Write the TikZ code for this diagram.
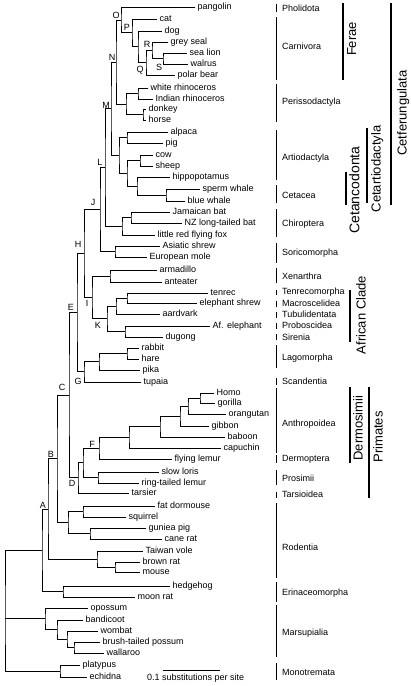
\documentclass[tikz,border=0pt]{standalone}
\usepackage{fontspec}
\setmainfont{Liberation Sans}
\usetikzlibrary{calc}
\newcommand\mkNode[4]{\path let \p1=(#3), \p2=(#4) in ({#2pt},{0.5*\y1+0.5*\y2}) coordinate (#1);}
\newcommand\mkEdge[3]{\draw[br] (#2) -| (#1) |- (#3);}
\begin{document}
\begin{tikzpicture}[x=1pt,y=-1pt,
  br/.style={line width=0.85pt},
  leaf/.style={anchor=west, inner xsep=2.5pt, inner ysep=0pt, text height=6.5pt, text depth=2pt, font=\fontsize{9}{10}\selectfont},
  ordlab/.style={anchor=west, inner sep=0pt, text height=6.5pt, text depth=2pt, font=\fontsize{9}{10}\selectfont},
  nlab/.style={inner sep=0pt, font=\fontsize{9}{10}\selectfont},
  clade/.style={rotate=90, anchor=north, inner sep=0pt, font=\fontsize{13}{15}\selectfont},
  obar/.style={line width=0.8pt},
  cbar/.style={line width=1.6pt}]
\useasboundingbox (0,0) rectangle (410,686);
% leaves
\node[leaf] (pangolin) at (195,7) {pangolin};
\node[leaf] (cat) at (157,19) {cat};
\node[leaf] (dog) at (162,31) {dog};
\node[leaf] (greyseal) at (168,42) {grey seal};
\node[leaf] (sealion) at (187,53) {sea lion};
\node[leaf] (walrus) at (188,64) {walrus};
\node[leaf] (polarbear) at (175,75) {polar bear};
\node[leaf] (wrhino) at (148,88) {white rhinoceros};
\node[leaf] (irhino) at (153,99) {Indian rhinoceros};
\node[leaf] (donkey) at (146,109.5) {donkey};
\node[leaf] (horse) at (146,120) {horse};
\node[leaf] (alpaca) at (168,132) {alpaca};
\node[leaf] (pig) at (163,143) {pig};
\node[leaf] (cow) at (153,155) {cow};
\node[leaf] (sheep) at (153,166) {sheep};
\node[leaf] (hippo) at (170,177) {hippopotamus};
\node[leaf] (sperm) at (200,189) {sperm whale};
\node[leaf] (blue) at (185,201) {blue whale};
\node[leaf] (jbat) at (170,212.5) {Jamaican bat};
\node[leaf] (nzbat) at (182,223) {NZ long-tailed bat};
\node[leaf] (fox) at (155,235) {little red flying fox};
\node[leaf] (shrew) at (160,246) {Asiatic shrew};
\node[leaf] (mole) at (147,257) {European mole};
\node[leaf] (armadillo) at (157,270) {armadillo};
\node[leaf] (anteater) at (162,282) {anteater};
\node[leaf] (tenrec) at (208,293) {tenrec};
\node[leaf] (eshrew) at (197,303) {elephant shrew};
\node[leaf] (aardvark) at (160,314) {aardvark};
\node[leaf] (afele) at (210,326) {Af. elephant};
\node[leaf] (dugong) at (163,337) {dugong};
\node[leaf] (rabbit) at (139,348) {rabbit};
\node[leaf] (hare) at (139,359) {hare};
\node[leaf] (pika) at (140,370) {pika};
\node[leaf] (tupaia) at (141,382) {tupaia};
\node[leaf] (homo) at (214,393) {Homo};
\node[leaf] (gorilla) at (215,403) {gorilla};
\node[leaf] (orangutan) at (226,414) {orangutan};
\node[leaf] (gibbon) at (209,426) {gibbon};
\node[leaf] (baboon) at (225,437) {baboon};
\node[leaf] (capuchin) at (221,448) {capuchin};
\node[leaf] (flemur) at (172,459) {flying lemur};
\node[leaf] (loris) at (159,472) {slow loris};
\node[leaf] (rtlemur) at (139,483) {ring-tailed lemur};
\node[leaf] (tarsier) at (129,493) {tarsier};
\node[leaf] (dormouse) at (155,506) {fat dormouse};
\node[leaf] (squirrel) at (126,517) {squirrel};
\node[leaf] (guinea) at (146,528) {guniea pig};
\node[leaf] (canerat) at (162,539) {cane rat};
\node[leaf] (vole) at (143,551) {Taiwan vole};
\node[leaf] (brownrat) at (140,562) {brown rat};
\node[leaf] (mouse) at (140,572) {mouse};
\node[leaf] (hedgehog) at (170,586) {hedgehog};
\node[leaf] (moonrat) at (135,597) {moon rat};
\node[leaf] (opossum) at (88,608) {opossum};
\node[leaf] (bandicoot) at (83,620) {bandicoot};
\node[leaf] (wombat) at (98,631) {wombat};
\node[leaf] (possum) at (100,642) {brush-tailed possum};
\node[leaf] (wallaroo) at (104,653) {wallaroo};
\node[leaf] (platypus) at (80,665) {platypus};
\node[leaf] (echidna) at (87,677) {echidna};
% internal nodes
\mkNode{S}{163}{sealion}{walrus}
\mkNode{R}{152}{greyseal}{S}
\mkNode{Q}{146}{R}{polarbear}
\mkNode{DQ}{138}{dog}{Q}
\mkNode{P}{132}{cat}{DQ}
\mkNode{O}{121}{pangolin}{P}
\mkNode{RH}{138}{wrhino}{irhino}
\mkNode{EQ}{143}{donkey}{horse}
\mkNode{PE}{126}{RH}{EQ}
\mkNode{N}{116}{O}{PE}
\mkNode{CP}{127}{alpaca}{pig}
\mkNode{RU}{140}{cow}{sheep}
\mkNode{WH}{166}{sperm}{blue}
\mkNode{HW}{137}{hippo}{WH}
\mkNode{RHW}{127}{RU}{HW}
\mkNode{CA}{119}{CP}{RHW}
\mkNode{M}{111}{N}{CA}
\mkNode{BT}{131}{jbat}{nzbat}
\mkNode{CH}{122}{BT}{fox}
\mkNode{L}{105}{M}{CH}
\mkNode{SO}{115}{shrew}{mole}
\mkNode{J}{100}{L}{SO}
\mkNode{XE}{110}{armadillo}{anteater}
\mkNode{TE}{127}{tenrec}{eshrew}
\mkNode{TA}{116}{TE}{aardvark}
\mkNode{PS}{125}{afele}{dugong}
\mkNode{K}{107}{TA}{PS}
\mkNode{I}{92}{XE}{K}
\mkNode{H}{84}{J}{I}
\mkNode{LA1}{127}{rabbit}{hare}
\mkNode{LA}{99}{LA1}{pika}
\mkNode{G}{84}{LA}{tupaia}
\mkNode{E}{77}{H}{G}
\mkNode{HG}{200}{homo}{gorilla}
\mkNode{HGO}{188}{HG}{orangutan}
\mkNode{AP}{180}{HGO}{gibbon}
\mkNode{CT}{160}{AP}{baboon}
\mkNode{AN}{129}{CT}{capuchin}
\mkNode{F}{99}{AN}{flemur}
\mkNode{PR}{98}{loris}{rtlemur}
\mkNode{FP}{83}{F}{PR}
\mkNode{D}{78}{FP}{tarsier}
\mkNode{C}{69}{E}{D}
\mkNode{DS}{83}{dormouse}{squirrel}
\mkNode{GC}{90}{guinea}{canerat}
\mkNode{SQ}{68}{DS}{GC}
\mkNode{B}{57}{C}{SQ}
\mkNode{BM}{115}{brownrat}{mouse}
\mkNode{MU}{97}{vole}{BM}
\mkNode{A}{48}{B}{MU}
\mkNode{ER}{63}{hedgehog}{moonrat}
\mkNode{EU}{42}{A}{ER}
\mkNode{BW}{74}{possum}{wallaroo}
\mkNode{WO}{67}{wombat}{BW}
\mkNode{BA}{57}{bandicoot}{WO}
\mkNode{MA}{45}{opossum}{BA}
\mkNode{MO}{60}{platypus}{echidna}
\path let \p1=(MA) in (5pt,\y1) coordinate (RT);
% edges
\mkEdge{S}{sealion}{walrus}
\mkEdge{R}{greyseal}{S}
\mkEdge{Q}{R}{polarbear}
\mkEdge{DQ}{dog}{Q}
\mkEdge{P}{cat}{DQ}
\mkEdge{O}{pangolin}{P}
\mkEdge{RH}{wrhino}{irhino}
\mkEdge{EQ}{donkey}{horse}
\mkEdge{PE}{RH}{EQ}
\mkEdge{N}{O}{PE}
\mkEdge{CP}{alpaca}{pig}
\mkEdge{RU}{cow}{sheep}
\mkEdge{WH}{sperm}{blue}
\mkEdge{HW}{hippo}{WH}
\mkEdge{RHW}{RU}{HW}
\mkEdge{CA}{CP}{RHW}
\mkEdge{M}{N}{CA}
\mkEdge{BT}{jbat}{nzbat}
\mkEdge{CH}{BT}{fox}
\mkEdge{L}{M}{CH}
\mkEdge{SO}{shrew}{mole}
\mkEdge{J}{L}{SO}
\mkEdge{XE}{armadillo}{anteater}
\mkEdge{TE}{tenrec}{eshrew}
\mkEdge{TA}{TE}{aardvark}
\mkEdge{PS}{afele}{dugong}
\mkEdge{K}{TA}{PS}
\mkEdge{I}{XE}{K}
\mkEdge{H}{J}{I}
\mkEdge{LA1}{rabbit}{hare}
\mkEdge{LA}{LA1}{pika}
\mkEdge{G}{LA}{tupaia}
\mkEdge{E}{H}{G}
\mkEdge{HG}{homo}{gorilla}
\mkEdge{HGO}{HG}{orangutan}
\mkEdge{AP}{HGO}{gibbon}
\mkEdge{CT}{AP}{baboon}
\mkEdge{AN}{CT}{capuchin}
\mkEdge{F}{AN}{flemur}
\mkEdge{PR}{loris}{rtlemur}
\mkEdge{FP}{F}{PR}
\mkEdge{D}{FP}{tarsier}
\mkEdge{C}{E}{D}
\mkEdge{DS}{dormouse}{squirrel}
\mkEdge{GC}{guinea}{canerat}
\mkEdge{SQ}{DS}{GC}
\mkEdge{B}{C}{SQ}
\mkEdge{BM}{brownrat}{mouse}
\mkEdge{MU}{vole}{BM}
\mkEdge{A}{B}{MU}
\mkEdge{ER}{hedgehog}{moonrat}
\mkEdge{EU}{A}{ER}
\mkEdge{BW}{possum}{wallaroo}
\mkEdge{WO}{wombat}{BW}
\mkEdge{BA}{bandicoot}{WO}
\mkEdge{MA}{opossum}{BA}
\mkEdge{MO}{platypus}{echidna}
\draw[br] (EU) -| (RT) |- (MO);
\draw[br] (RT) -- (MA);
% node letters
\node[nlab] (lO) at (116,15) {O};
\node[nlab] (lP) at (127,27) {P};
\node[nlab] (lQ) at (140,70) {Q};
\node[nlab] (lR) at (147,44) {R};
\node[nlab] (lS) at (159,67) {S};
\node[nlab] (lN) at (112,57) {N};
\node[nlab] (lM) at (106,105) {M};
\node[nlab] (lL) at (100,162) {L};
\node[nlab] (lJ) at (93,202) {J};
\node[nlab] (lH) at (78,244) {H};
\node[nlab] (lI) at (87,303) {I};
\node[nlab] (lK) at (98,325) {K};
\node[nlab] (lE) at (71,307) {E};
\node[nlab] (lG) at (78,381) {G};
\node[nlab] (lC) at (62,387) {C};
\node[nlab] (lF) at (92,444) {F};
\node[nlab] (lD) at (72,483) {D};
\node[nlab] (lB) at (51,454) {B};
\node[nlab] (lA) at (43,505) {A};
% scale bar
\coordinate (sb1) at (163,670);
\coordinate (sb2) at (220,670);
\draw[br] (sb1) -- (sb2);
\node[ordlab] (sbl) at (147,678) {0.1 substitutions per site};
% order bars
\foreach \a/\b in {4/12,17/80,84/122,130/180,185/203,209/237,243/263,268/283,290/295,301/307,312/318,323/329,334/340,345/368,378/385,388/453,455/463,470/485,492/498,503/578,582/602,605/657,663/680}
  \draw[obar] (276,\a) -- (276,\b);
\node[ordlab] (o1) at (282,9) {Pholidota};
\node[ordlab] (o2) at (282,47) {Carnivora};
\node[ordlab] (o3) at (282,102) {Perissodactyla};
\node[ordlab] (o4) at (282,158) {Artiodactyla};
\node[ordlab] (o5) at (282,196) {Cetacea};
\node[ordlab] (o6) at (282,224) {Chiroptera};
\node[ordlab] (o7) at (282,253) {Soricomorpha};
\node[ordlab] (o8) at (282,277) {Xenarthra};
\node[ordlab] (o9) at (282,292) {Tenrecomorpha};
\node[ordlab] (o10) at (282,304) {Macroscelidea};
\node[ordlab] (o11) at (282,315) {Tubulidentata};
\node[ordlab] (o12) at (282,326) {Proboscidea};
\node[ordlab] (o13) at (282,338) {Sirenia};
\node[ordlab] (o14) at (282,358) {Lagomorpha};
\node[ordlab] (o15) at (282,382) {Scandentia};
\node[ordlab] (o16) at (282,424) {Anthropoidea};
\node[ordlab] (o17) at (282,459) {Dermoptera};
\node[ordlab] (o18) at (282,479) {Prosimii};
\node[ordlab] (o19) at (282,495) {Tarsioidea};
\node[ordlab] (o20) at (282,548) {Rodentia};
\node[ordlab] (o21) at (282,593) {Erinaceomorpha};
\node[ordlab] (o22) at (282,633) {Marsupialia};
\node[ordlab] (o23) at (282,673) {Monotremata};
% clade bars
\draw[cbar] (343,3) -- (343,80);
\draw[cbar] (391,3) -- (391,205);
\draw[cbar] (367,128) -- (367,203);
\draw[cbar] (346,172) -- (346,205);
\draw[cbar] (350,290) -- (350,342);
\draw[cbar] (350,387) -- (350,463);
\draw[cbar] (369,387) -- (369,498);
\node[clade] (c1) at (347,39) {Ferae};
\node[clade] (c2) at (397,113) {Cetferungulata};
\node[clade] (c3) at (371,169) {Cetartiodactyla};
\node[clade, font=\fontsize{14}{16}\selectfont] (c4) at (349,190) {Cetancodonta};
\node[clade] (c5) at (356,315) {African Clade};
\node[clade] (c6) at (353,428) {Dermosimii};
\node[clade] (c7) at (373,437) {Primates};
\end{tikzpicture}
\end{document}
